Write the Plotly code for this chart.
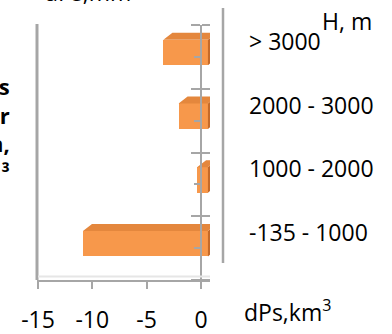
import plotly.graph_objects as go

# Elevation bands (bottom to top) and volume change per band, km^3
bands = ["-135 - 1000", "1000 - 2000", "2000 - 3000", "> 3000"]
dps_km3 = [-11.5, -1.0, -2.7, -4.1]

x_tick_vals = [-15, -10, -5, 0]
x_tick_text = ["-15", "-10", "-5", "0"]

W, H = 392, 334
FONT = "Open Sans"
GRAY = "#A6A6A6"
FRONT = "#F7984B"
TOP = "#E4873D"
SIDE = "#C46A2A"


def fx(px):
    return px / W


def fy(px):
    return 1 - px / H


x_range = [-15.09, 0.83]
x_dom = [fx(37), fx(210)]
y_dom = [fy(280), fy(25)]
y_range = [-0.5, 3.5]

# oblique projection of each bar box, in axis units
front_dx, front_dy = 0.64, 0.07   # front face offset from the floor plane
depth_dx, depth_dy = 0.83, 0.11   # box depth
thick = 0.40                      # bar thickness along the category axis

pos = list(range(len(bands)))
bounds = [p - 0.5 for p in pos] + [pos[-1] + 0.5]

top_x, top_y, side_x, side_y = [], [], [], []
for p, v in zip(pos, dps_km3):
    y0 = p + front_dy - thick / 2
    y1 = y0 + thick
    xl, xr = front_dx + v, front_dx
    top_x += [xl, xr, xr + depth_dx, xl + depth_dx, xl, None]
    top_y += [y1, y1, y1 + depth_dy, y1 + depth_dy, y1, None]
    side_x += [xr, xr, xr + depth_dx, xr + depth_dx, xr, None]
    side_y += [y0, y1, y1 + depth_dy, y0 + depth_dy, y0, None]

fig = go.Figure()
fig.add_trace(go.Bar(
    x=dps_km3, y=pos, base=front_dx, orientation="h",
    width=thick, offset=front_dy - thick / 2,
    marker=dict(color=FRONT, line=dict(width=0)),
    hoverinfo="skip",
))
fig.add_trace(go.Scatter(x=side_x, y=side_y, mode="lines", fill="toself",
                         fillcolor=SIDE, line=dict(width=0), hoverinfo="skip"))
fig.add_trace(go.Scatter(x=top_x, y=top_y, mode="lines", fill="toself",
                         fillcolor=TOP, line=dict(width=0), hoverinfo="skip"))
# carrier for the mirrored tick axis
fig.add_trace(go.Scatter(x=[None], y=[None], yaxis="y2", mode="markers",
                         hoverinfo="skip"))

y_pos = x_dom[0] + (0 - x_range[0]) / (x_range[1] - x_range[0]) * (x_dom[1] - x_dom[0])

tick_font = dict(family=FONT, size=23, color="black")

fig.update_layout(
    width=W, height=H,
    margin=dict(l=0, r=0, t=0, b=0, autoexpand=False),
    paper_bgcolor="white", plot_bgcolor="rgba(0,0,0,0)",
    showlegend=False,
    bargap=0,
    xaxis=dict(
        domain=x_dom, range=x_range, anchor="y",
        showline=True, linecolor=GRAY, linewidth=2,
        ticks="outside", ticklen=7, tickwidth=2, tickcolor=GRAY,
        tickmode="array", tickvals=x_tick_vals, ticktext=x_tick_text,
        tickfont=tick_font, ticklabelstandoff=11,
        showgrid=False, zeroline=False,
    ),
    yaxis=dict(
        domain=y_dom, range=y_range, anchor="free", position=y_pos,
        showline=True, linecolor=GRAY, linewidth=2,
        ticks="outside", ticklen=9, tickwidth=2, tickcolor=GRAY,
        tickmode="array", tickvals=bounds, showticklabels=False,
        minor=dict(tickmode="array", tickvals=pos, ticks="outside",
                   ticklen=6, tickwidth=2, tickcolor=GRAY),
        showgrid=False, zeroline=False,
    ),
    yaxis2=dict(
        overlaying="y", range=y_range, anchor="free", position=y_pos,
        side="right", showline=False,
        ticks="outside", ticklen=8, tickwidth=2, tickcolor=GRAY,
        tickmode="array", tickvals=bounds, showticklabels=False,
        showgrid=False, zeroline=False,
    ),
)

# back wall edge, side wall edge and floor
fig.add_shape(type="line", xref="paper", yref="paper",
              x0=fx(37), x1=fx(37), y0=fy(280), y1=fy(24),
              line=dict(color=GRAY, width=3))
fig.add_shape(type="line", xref="paper", yref="paper",
              x0=fx(223), x1=fx(223), y0=fy(263), y1=fy(8),
              line=dict(color=GRAY, width=2.5))
fig.add_shape(type="line", xref="paper", yref="paper",
              x0=fx(38), x1=fx(210), y0=fy(276.5), y1=fy(276.5),
              line=dict(color="#E6E6E6", width=2))

label_font = dict(family=FONT, size=23, color="black")
for p, name in zip(pos, bands):
    fig.add_annotation(x=fx(247), xref="paper", xanchor="left",
                       y=p, yref="y", yanchor="middle", yshift=16,
                       text=name, showarrow=False, font=label_font)

fig.add_annotation(x=fx(320), y=fy(21), xref="paper", yref="paper",
                   xanchor="left", yanchor="middle", text="H, m",
                   showarrow=False, font=label_font)
fig.add_annotation(x=fx(242), y=fy(311), xref="paper", yref="paper",
                   xanchor="left", yanchor="middle", text="dPs,km<sup>3</sup>",
                   showarrow=False, font=label_font)
fig.add_annotation(x=fx(42), y=fy(10), xref="paper", yref="paper",
                   xanchor="left", yanchor="bottom", text="dPs,mm",
                   showarrow=False, font=label_font)

# bold side caption, running off the left edge
fig.add_annotation(x=fx(12), y=fy(129), xref="paper", yref="paper",
                   xanchor="right", yanchor="middle", align="right",
                   text="s<br>r<br>n,<br>³", showarrow=False,
                   font=dict(family=FONT, size=22, color="black", weight="bold"))

fig.write_html("out.html")
